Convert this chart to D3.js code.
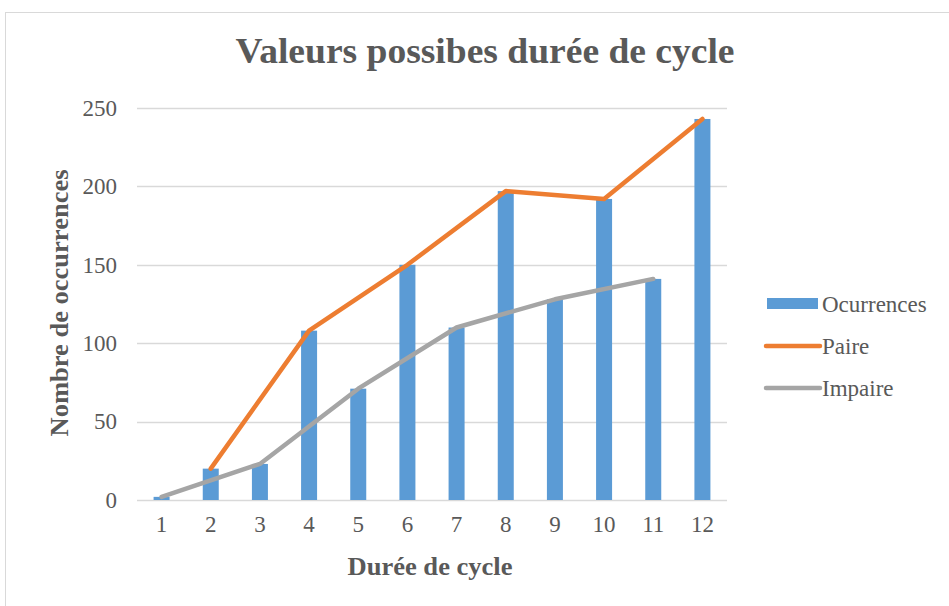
<!DOCTYPE html>
<html>
<head>
<meta charset="utf-8">
<script src="https://cdn.jsdelivr.net/npm/d3@7"></script>
<style>
  body { margin: 0; background: #fff; }
  svg { display: block; font-family: "Liberation Serif", "Times New Roman", serif; }
</style>
</head>
<body>
<svg width="949" height="606"></svg>
<script>
// data
const categories = ["1", "2", "3", "4", "5", "6", "7", "8", "9", "10", "11", "12"];
const occurrences = [2, 20, 23, 108, 71, 150, 110, 197, 128, 192, 141, 243];
const paire = [null, 20, null, 108, null, 150, null, 197, null, 192, null, 243];
const impaire = [2, null, 23, null, 71, null, 110, null, 128, null, 141, null];
const yTicks = [0, 50, 100, 150, 200, 250];
const legendNames = ["Ocurrences", "Paire", "Impaire"];

const colors = { bar: "#5b9bd5", paire: "#ed7d31", impaire: "#a5a5a5" };
const textColor = "#595959";

const svg = d3.select("svg");

// cadre
svg.append("rect")
  .attr("x", 5.5).attr("y", 12.5)
  .attr("width", 1000).attr("height", 700)
  .attr("fill", "none")
  .attr("stroke", "#d9d9d9");

const x = d3.scaleBand().domain(categories).range([137, 727]);
const y = d3.scaleLinear().domain([0, 250]).range([500, 108]);

// grille
svg.append("g")
  .selectAll("line")
  .data(yTicks)
  .join("line")
  .attr("x1", 137).attr("x2", 727)
  .attr("y1", d => Math.round(y(d)) + 0.5)
  .attr("y2", d => Math.round(y(d)) + 0.5)
  .attr("stroke", "#d9d9d9")
  .attr("stroke-width", 1.3);

// axe y
const yAxis = svg.append("g")
  .attr("transform", "translate(117,0)")
  .call(d3.axisLeft(y).tickValues(yTicks).tickSize(0).tickPadding(0));
yAxis.select(".domain").remove();
yAxis.selectAll("text")
  .attr("font-size", 23)
  .attr("font-family", "Liberation Serif")
  .attr("fill", textColor);

// axe x
const xAxis = svg.append("g")
  .attr("transform", "translate(0,500)")
  .call(d3.axisBottom(x).tickSize(0).tickPadding(16));
xAxis.select(".domain").remove();
xAxis.selectAll("text")
  .attr("font-size", 23)
  .attr("font-family", "Liberation Serif")
  .attr("fill", textColor);

// barres
const barW = 16;
svg.append("g")
  .selectAll("rect")
  .data(occurrences)
  .join("rect")
  .attr("x", (d, i) => x(categories[i]) + x.bandwidth() / 2 - barW / 2)
  .attr("y", d => y(d))
  .attr("width", barW)
  .attr("height", d => y(0) - y(d))
  .attr("fill", colors.bar);

// lignes (points vides reliés)
function drawLine(values, color) {
  const pts = values
    .map((v, i) => ({ c: categories[i], v }))
    .filter(p => p.v !== null);
  const line = d3.line()
    .x(p => x(p.c) + x.bandwidth() / 2)
    .y(p => y(p.v));
  svg.append("path")
    .datum(pts)
    .attr("d", line)
    .attr("fill", "none")
    .attr("stroke", color)
    .attr("stroke-width", 4.5)
    .attr("stroke-linejoin", "round")
    .attr("stroke-linecap", "round");
}
drawLine(paire, colors.paire);
drawLine(impaire, colors.impaire);

// titre
svg.append("text")
  .attr("x", 485).attr("y", 63)
  .attr("text-anchor", "middle")
  .attr("font-size", 36)
  .attr("font-weight", "bold")
  .attr("fill", textColor)
  .attr("textLength", 499)
  .attr("lengthAdjust", "spacingAndGlyphs")
  .text("Valeurs possibes durée de cycle");

// titres des axes
svg.append("text")
  .attr("x", 430).attr("y", 575)
  .attr("text-anchor", "middle")
  .attr("font-size", 25)
  .attr("font-weight", "bold")
  .attr("fill", textColor)
  .attr("textLength", 165)
  .attr("lengthAdjust", "spacingAndGlyphs")
  .text("Durée de cycle");

svg.append("text")
  .attr("transform", "translate(68,303) rotate(-90)")
  .attr("text-anchor", "middle")
  .attr("font-size", 25)
  .attr("font-weight", "bold")
  .attr("fill", textColor)
  .attr("textLength", 267)
  .attr("lengthAdjust", "spacingAndGlyphs")
  .text("Nombre  de occurrences");

// légende
const legendY = d3.scalePoint().domain(legendNames).range([304, 388]);
const legend = svg.append("g")
  .selectAll("g")
  .data(legendNames)
  .join("g")
  .attr("transform", d => `translate(0,${legendY(d)})`);

legend.filter((d, i) => i === 0).append("rect")
  .attr("x", 767).attr("y", -6)
  .attr("width", 51).attr("height", 11)
  .attr("fill", colors.bar);

legend.filter((d, i) => i > 0).append("line")
  .attr("x1", 766).attr("x2", 820)
  .attr("y1", 0).attr("y2", 0)
  .attr("stroke", (d, i) => i === 0 ? colors.paire : colors.impaire)
  .attr("stroke-width", 4.5)
  .attr("stroke-linecap", "round");

legend.append("text")
  .attr("x", 822).attr("y", 8)
  .attr("font-size", 23)
  .attr("fill", textColor)
  .text(d => d);
</script>
</body>
</html>
